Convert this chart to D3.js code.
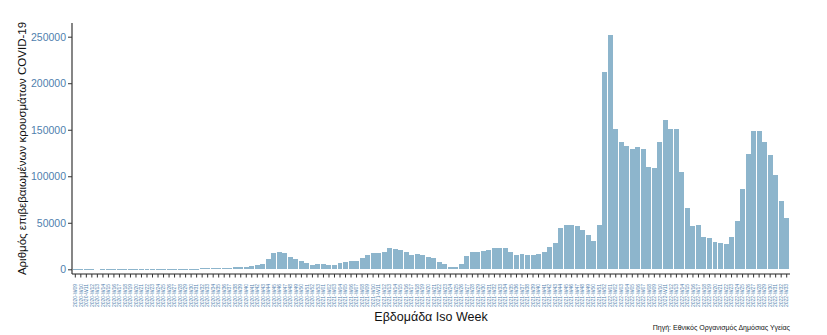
<!DOCTYPE html>
<html>
<head>
<meta charset="utf-8">
<script src="https://cdn.jsdelivr.net/npm/d3@7"></script>
<style>
  body { margin: 0; background: #fff; }
  svg { display: block; font-family: "Liberation Sans", Arial, sans-serif; }
</style>
</head>
<body>
<svg id="chart" width="827" height="335"></svg>
<script>
// Weekly confirmed COVID-19 cases, ISO weeks 2020-W09 .. 2022-W33
const years = [2020, 2021, 2022];
const firstWeek = [9, 1, 1];
const lastWeek = [53, 52, 33];

const weeks = [];
years.forEach((y, i) => {
  for (let w = firstWeek[i]; w <= lastWeek[i]; w++) {
    weeks.push(`${y}-W${String(w).padStart(2, "0")}`);
  }
});

const cases = [
  10, 80, 300, 450, 650, 500, 400, 350, 250, 150,
  100, 60, 60, 80, 110, 100, 90, 130, 130, 200,
  220, 300, 550, 900, 1100, 1300, 1300, 1400, 1900, 2300,
  2500, 2500, 3300, 4300, 5700, 11000, 17200, 18900, 17000, 12700,
  10600, 8400, 6300, 4100, 5200, 5200, 4100, 4100, 6300, 7400,
  8400, 8400, 11700, 14900, 17000, 17000, 18100, 22400, 21300, 20300,
  18100, 14900, 16000, 14900, 12700, 11700, 7400, 5200, 3000, 3000,
  5200, 13800, 18100, 18100, 19200, 20300, 22400, 22400, 22400, 18100,
  14900, 16000, 14900, 14900, 16000, 18100, 23500, 27800, 43900, 47200,
  47200, 46100, 41800, 36400, 30600, 47800, 212000, 251800, 150650, 136700,
  132400, 129100, 131300, 129100, 109800, 108700, 136700, 160300, 150650, 150650,
  104400, 65600, 46300, 47350, 34400, 33400, 29050, 28000, 26900, 34400,
  51650, 86100, 123750, 148500, 148500, 136700, 122700, 101150, 73200, 54900
];

const yTicks = [0, 50000, 100000, 150000, 200000, 250000];

const yTitle = "Αριθμός επιβεβαιωμένων κρουσμάτων COVID-19";
const xTitle = "Εβδομάδα Iso Week";
const caption = "Πηγή: Εθνικός Οργανισμός Δημόσιας Υγείας";

const data = weeks.map((w, i) => ({ week: w, value: cases[i] }));

const svg = d3.select("#chart");
const left = 72, right = 790, panelTop = 23, axisY = 274;
const tickColor = "#4f7fae";

const x = d3.scaleBand()
  .domain(weeks)
  .range([left, right])
  .paddingInner(0.1)
  .paddingOuter(0.15);

const y = d3.scaleLinear()
  .domain([0, 250000])
  .range([269.3, 36.7]);

// bars
svg.append("g")
  .selectAll("rect")
  .data(data)
  .join("rect")
  .attr("x", d => x(d.week))
  .attr("width", x.bandwidth())
  .attr("y", d => y(d.value))
  .attr("height", d => Math.max(0.8, y(0) - y(d.value)))
  .attr("fill", "#8db5cc")
  .attr("shape-rendering", "crispEdges");

// y axis
const yAxis = svg.append("g")
  .attr("transform", `translate(${left},0)`)
  .call(d3.axisLeft(y).tickValues(yTicks).tickFormat(d3.format("d")).tickSize(4).tickPadding(2));
yAxis.select(".domain").attr("d", `M0,${panelTop}V${axisY}`).attr("stroke", "#222").attr("stroke-width", 1.1);
yAxis.selectAll(".tick line").attr("stroke", "#333");
yAxis.selectAll(".tick text")
  .attr("fill", tickColor)
  .style("font-size", "10.5px");

// x axis
const xAxis = svg.append("g")
  .attr("transform", `translate(0,${axisY})`)
  .call(d3.axisBottom(x).tickSize(3.5).tickPadding(0));
xAxis.select(".domain").attr("d", `M${left},0H${right}`).attr("stroke", "#222").attr("stroke-width", 1.1);
xAxis.selectAll(".tick line").attr("stroke", "#333");
xAxis.selectAll(".tick text")
  .attr("fill", tickColor)
  .style("font-size", "5px")
  .attr("text-anchor", "end")
  .attr("dy", "0.35em")
  .attr("transform", "translate(0,10) rotate(-90)")
  .attr("x", 0)
  .attr("y", 0);

// titles
svg.append("text")
  .attr("transform", `translate(26,${(panelTop + axisY) / 2}) rotate(-90)`)
  .attr("text-anchor", "middle")
  .style("font-size", "11.5px")
  .attr("fill", "#111")
  .text(yTitle);

svg.append("text")
  .attr("x", (left + right) / 2)
  .attr("y", 321)
  .attr("text-anchor", "middle")
  .style("font-size", "12.5px")
  .attr("fill", "#111")
  .text(xTitle);

svg.append("text")
  .attr("x", right)
  .attr("y", 330)
  .attr("text-anchor", "end")
  .style("font-size", "7px")
  .attr("fill", "#111")
  .text(caption);
</script>
</body>
</html>
